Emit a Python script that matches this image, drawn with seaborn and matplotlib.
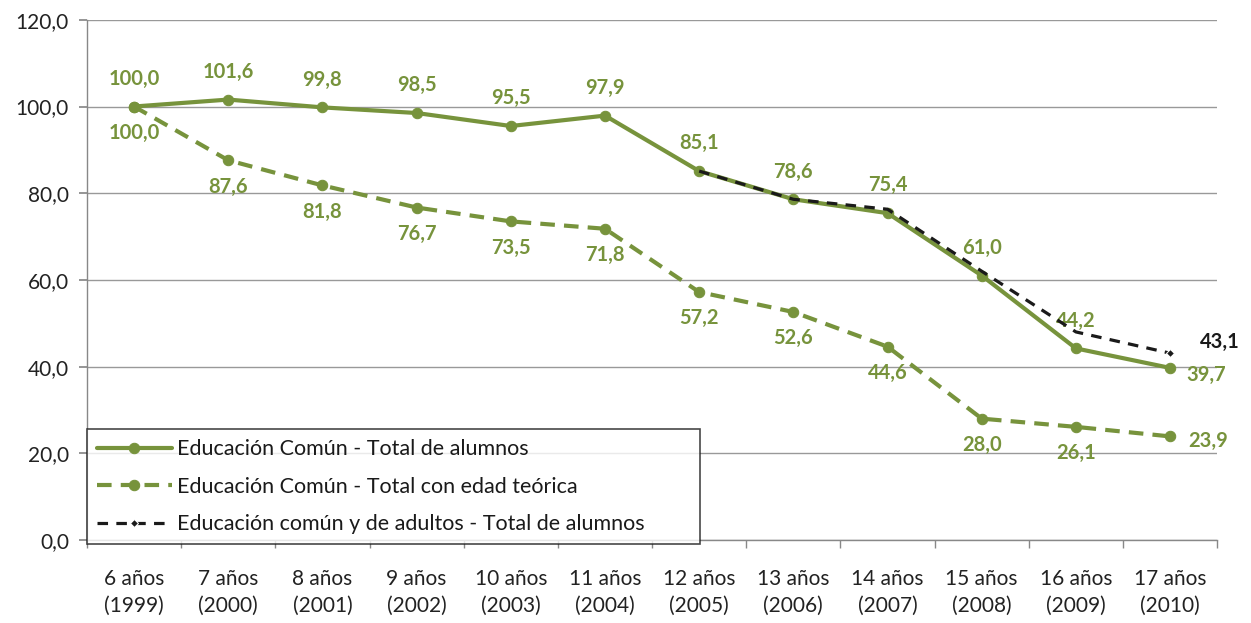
import matplotlib
matplotlib.use("Agg")
import matplotlib.pyplot as plt
import seaborn as sns
import pandas as pd
import numpy as np

categories = ["6 años\n(1999)", "7 años\n(2000)", "8 años\n(2001)", "9 años\n(2002)",
              "10 años\n(2003)", "11 años\n(2004)", "12 años\n(2005)", "13 años\n(2006)",
              "14 años\n(2007)", "15 años\n(2008)", "16 años\n(2009)", "17 años\n(2010)"]
total_alumnos = [100.0, 101.6, 99.8, 98.5, 95.5, 97.9, 85.1, 78.6, 75.4, 61.0, 44.2, 39.7]
edad_teorica = [100.0, 87.6, 81.8, 76.7, 73.5, 71.8, 57.2, 52.6, 44.6, 28.0, 26.1, 23.9]
comun_adultos = [np.nan] * 6 + [85.1, 78.6, 76.3, 62.0, 48.0, 43.1]
series_names = ["Educación Común - Total de alumnos",
                "Educación Común - Total con edad teórica",
                "Educación común y de adultos - Total de alumnos"]

sns.set_theme(style="white")
plt.rcParams['font.family'] = ['Lato', 'DejaVu Sans']

green = "#77933C"
dark = "#1a1a1a"
fig = plt.figure(figsize=(12.51, 6.23), dpi=100)
ax = fig.add_axes([0.0695, 0.1332, 0.9035, 0.835])

pos = np.arange(len(categories))
df = pd.DataFrame({"pos": pos, "a": total_alumnos, "b": edad_teorica, "c": comun_adultos})

sns.lineplot(data=df, x="pos", y="a", ax=ax, color=green, lw=3, marker="o", markersize=7.5,
             markeredgecolor=green, label=series_names[0], zorder=3)
sns.lineplot(data=df, x="pos", y="b", ax=ax, color=green, lw=3, marker="o", markersize=7.5,
             markeredgecolor=green, linestyle=(0, (3.5, 2.2)), label=series_names[1], zorder=3)
sns.lineplot(data=df.dropna(), x="pos", y="c", ax=ax, color=dark, lw=2.3, marker="D",
             markersize=4, markevery=[-1], linestyle=(0, (3.3, 2.6)),
             label=series_names[2], zorder=4)

def fmt(v):
    return f"{v:.1f}".replace(".", ",")

lab_kw = dict(fontsize=14.5, fontweight="bold", ha="center", va="center",
              textcoords="offset points")
for i, v in enumerate(total_alumnos):
    if i == 11:
        ax.annotate(fmt(v), (i, v), xytext=(26, -5), color=green, **lab_kw)
    else:
        ax.annotate(fmt(v), (i, v), xytext=(0, 20), color=green, **lab_kw)
for i, v in enumerate(edad_teorica):
    if i == 11:
        ax.annotate(fmt(v), (i, v), xytext=(27, -3), color=green, **lab_kw)
    else:
        ax.annotate(fmt(v), (i, v), xytext=(0, -19), color=green, **lab_kw)
ax.annotate(fmt(comun_adultos[-1]), (11, comun_adultos[-1]), xytext=(36, 8),
            color=dark, **lab_kw)

ax.set_xlim(-0.5, len(categories) - 0.5)
ax.set_ylim(0, 120)
ax.set_yticks(np.arange(0, 121, 20))
ax.set_yticklabels([fmt(v) for v in np.arange(0, 121, 20)], fontsize=15, color="#222222")
ax.set_xticks(pos)
ax.set_xticklabels(categories, fontsize=15, color="#222222", linespacing=1.4)
ax.tick_params(axis="x", length=0, pad=21)
ax.set_xticks(np.arange(-0.5, len(categories), 1), minor=True)
ax.tick_params(axis="x", which="minor", length=6, color="#888888", direction="out", bottom=True)
ax.tick_params(axis="y", length=6, color="#888888", direction="out", left=True, pad=7)
ax.set_xlabel("")
ax.set_ylabel("")
ax.grid(axis="y", color="#999999", lw=1)
ax.grid(axis="x", visible=False)
for s in ["top", "right"]:
    ax.spines[s].set_visible(False)
for s in ["left", "bottom"]:
    ax.spines[s].set_color("#888888")
    ax.spines[s].set_linewidth(1)

leg = ax.legend(loc="lower left", bbox_to_anchor=(0.0, -0.008, 0.542, 0.216), mode="expand",
                fontsize=15.5, frameon=True, fancybox=False, handlelength=3.5,
                borderaxespad=0, labelspacing=0.82, handletextpad=0.25, borderpad=0.45,
                labelcolor=dark)
leg.get_frame().set_edgecolor(dark)
leg.get_frame().set_linewidth(1.2)
leg.set_zorder(5)

fig.savefig("out.png", dpi=100)
